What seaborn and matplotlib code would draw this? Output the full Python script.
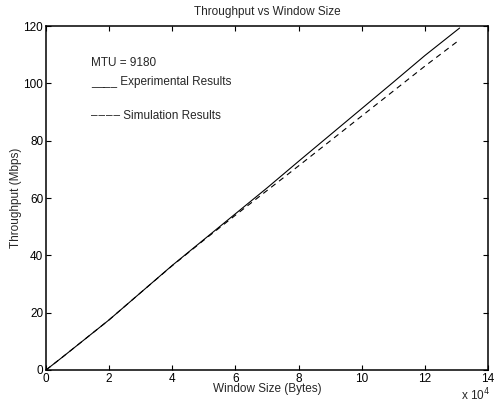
import pandas as pd
import seaborn as sns
import matplotlib.pyplot as plt
from matplotlib.ticker import FuncFormatter

window_bytes = [0, 5000, 10000, 20000, 30000, 40000, 50000, 60000, 70000,
                80000, 90000, 100000, 110000, 120000, 131000]
experimental = [0, 4.3, 8.7, 17.5, 27.0, 36.5, 45.5, 54.5, 63.5,
                72.8, 82.0, 91.2, 100.4, 109.7, 119.3]
simulation = [0, 4.3, 8.7, 17.5, 27.0, 36.4, 45.3, 54.0, 62.6,
              71.2, 79.9, 88.6, 97.3, 106.0, 115.2]

sns.set_style("ticks")
plt.rcParams['font.family'] = ['Liberation Sans', 'DejaVu Sans']
fs = 8.5
plt.rcParams['font.size'] = fs

df = pd.DataFrame({
    'window': window_bytes * 2,
    'throughput': experimental + simulation,
    'series': ['Experimental'] * len(window_bytes) + ['Simulation'] * len(window_bytes),
})

fig = plt.figure(figsize=(4.94, 4.04), dpi=100)
ax = fig.add_axes([0.0931, 0.0842, 0.8948, 0.8514])

sns.lineplot(data=df, x='window', y='throughput', style='series',
             dashes={'Experimental': '', 'Simulation': (5, 4)},
             color='black', linewidth=0.8, legend=False, ax=ax)

ax.set_xlim(0, 140000)
ax.set_ylim(0, 120)
ax.set_xticks(range(0, 140001, 20000))
ax.set_yticks(range(0, 121, 20))
ax.xaxis.set_major_formatter(FuncFormatter(lambda v, _: f"{v / 1e4:g}"))
ax.tick_params(direction='in', length=3.5, width=0.8, top=True, right=True,
               labelsize=fs, colors='black', pad=2)
for s in ax.spines.values():
    s.set_visible(True)
    s.set_linewidth(1.1)
    s.set_color('black')

ax.set_title('Throughput vs Window Size', fontsize=fs, pad=8)
ax.set_xlabel('Window Size (Bytes)', fontsize=fs, labelpad=-1)
ax.set_ylabel('Throughput (Mbps)', fontsize=fs, labelpad=1)

ax.text(14300, 107, 'MTU = 9180', fontsize=fs, va='center')
ax.text(14300, 100.5, '____ Experimental Results', fontsize=fs, va='center')
ax.text(14300, 88.5, '\u2013\u200a\u2013\u200a\u2013\u200a\u2013 Simulation Results',
        fontsize=fs, va='center', family=['Liberation Sans', 'DejaVu Sans'])
fig.text(0.933, 0.008, 'x 10$^4$', fontsize=fs)

plt.savefig('out.png', dpi=100)
